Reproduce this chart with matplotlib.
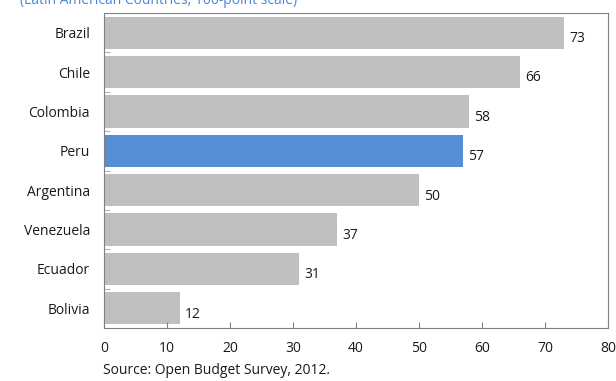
import matplotlib.pyplot as plt
import numpy as np

countries = ['Brazil', 'Chile', 'Colombia', 'Peru', 'Argentina', 'Venezuela', 'Ecuador', 'Bolivia']
scores = [73, 66, 58, 57, 50, 37, 31, 12]
highlight = 'Peru'

plt.rcParams['font.family'] = ['Open Sans', 'DejaVu Sans']
fs = 10

fig = plt.figure(figsize=(6.16, 3.81), dpi=100)
ax = fig.add_axes([104 / 616, 1 - 328 / 381, 504 / 616, 315 / 381])

y = np.arange(len(countries))
colors = ['#558ed5' if c == highlight else '#bfbfbf' for c in countries]
ax.barh(y, scores, height=0.82, color=colors)
for yi, v in zip(y, scores):
    ax.text(v + 0.8, yi + 0.15, str(v), va='center', ha='left', fontsize=fs, color='#1a1a1a')

ax.set_ylim(len(countries) - 0.5, -0.5)
ax.set_xlim(0, 80)
ax.set_xticks(range(0, 81, 10))
ax.set_yticks(y)
ax.set_yticklabels(countries)
ax.set_yticks(np.arange(-0.5, len(countries), 1), minor=True)
ax.tick_params(axis='y', which='major', length=0, pad=10, labelsize=fs, labelcolor='#1a1a1a')
ax.tick_params(axis='y', which='minor', direction='in', length=4, color='#a0a0a0')
ax.tick_params(axis='x', direction='in', length=4, color='#808080', pad=9,
               labelsize=fs, labelcolor='#1a1a1a')
for s in ax.spines.values():
    s.set_color('#808080')

fig.text(20 / 616, 1.0, '(Latin American Countries, 100-point scale)',
         fontsize=fs, color='#4a86d4', ha='left', va='center')
fig.text(103 / 616, 1 - 370 / 381, 'Source: Open Budget Survey, 2012.',
         fontsize=fs, color='#1a1a1a', ha='left', va='center')

fig.savefig('out.png', dpi=100)
